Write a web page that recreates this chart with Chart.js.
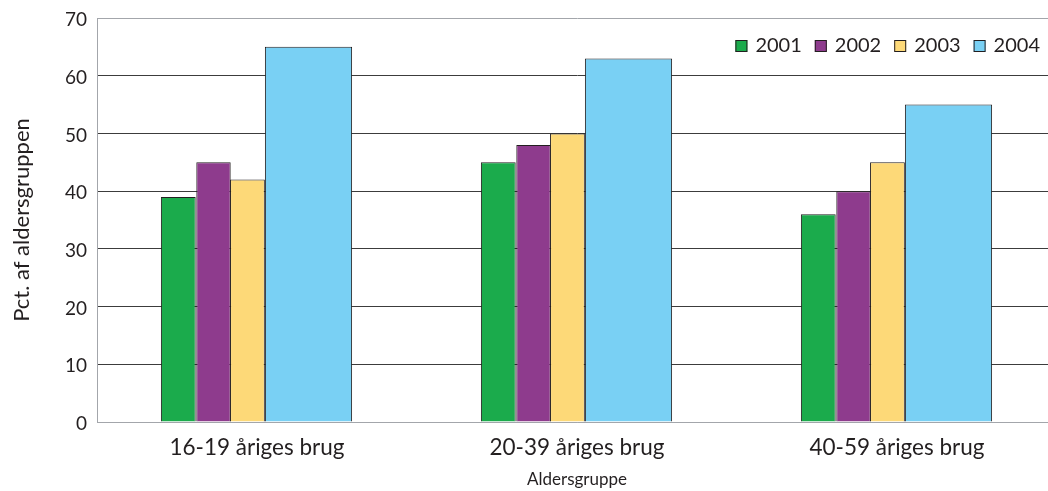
<!DOCTYPE html>
<html>
<head>
<meta charset="utf-8">
<script src="https://cdn.jsdelivr.net/npm/chart.js@4.4.0/dist/chart.umd.min.js"></script>
<style>
  html, body { margin: 0; padding: 0; background: #ffffff; overflow: hidden; }
  #wrap { position: relative; width: 1060px; height: 491px; }
</style>
</head>
<body>
<div id="wrap"><canvas id="c"></canvas></div>
<script>
// ---- data ----
const categories = ['16-19 åriges brug', '20-39 åriges brug', '40-59 åriges brug'];
const years = ['2001', '2002', '2003', '2004'];
const values2001 = [39, 45, 36];
const values2002 = [45, 48, 40];
const values2003 = [42, 50, 45];
const values2004 = [65, 63, 55];
const yMin = 0, yMax = 70, yStep = 10;
const yTitle = 'Pct. af aldersgruppen';
const xTitle = 'Aldersgruppe';

// ---- style ----
const TEXT = '#231f20';
const BORDER = '#231f20';
const AXIS_GREY = '#a3a6ab';
const GRID_DARK = '#3c3c3c';
const colors = ['#1bab4c', '#8e3b8d', '#fdd978', '#79d0f4'];
const FONT = 'Lato';

function barSet(label, data, color, catPct, barPct) {
  return {
    label, data,
    backgroundColor: color,
    borderColor: BORDER,
    borderWidth: 1,
    categoryPercentage: catPct,
    barPercentage: barPct
  };
}
// empty slots so that the wide 2004 bar sits to the right of the narrow ones
function spacer() { return { label: '', data: [], spacer: true }; }

const insideLegend = {
  id: 'insideLegend',
  afterDraw(chart) {
    const { ctx, chartArea } = chart;
    const items = chart.data.datasets.filter(d => !d.spacer);
    ctx.save();
    ctx.font = '20px ' + FONT;
    const box = 12, gapText = 8, gapItem = 13;
    const widths = items.map(d => ctx.measureText(d.label).width);
    const total = widths.reduce((a, w) => a + box + gapText + w, 0) + gapItem * (items.length - 1);
    let x = chartArea.right - 17 - total;
    const y = chartArea.top + 28;
    ctx.textBaseline = 'middle';
    ctx.textAlign = 'left';
    items.forEach((d, i) => {
      ctx.fillStyle = d.backgroundColor;
      ctx.fillRect(x, y - 6, box, box);
      ctx.strokeStyle = BORDER;
      ctx.lineWidth = 1;
      ctx.strokeRect(x + 0.5, y - 5.5, box - 1, box - 1);
      x += box + gapText;
      ctx.fillStyle = TEXT;
      ctx.fillText(d.label, x, y);
      x += widths[i] + gapItem;
    });
    ctx.restore();
  }
};

new Chart(document.getElementById('c'), {
  type: 'bar',
  data: {
    labels: categories,
    datasets: [
      barSet(years[0], values2001, colors[0], 0.59025, 1.1055),
      barSet(years[1], values2002, colors[1], 0.54375, 1.1862),
      barSet(years[2], values2003, colors[2], 0.3581, 1.822),
      spacer(),
      spacer(),
      barSet(years[3], values2004, colors[3], 0.38625, 4.233)
    ]
  },
  options: {
    responsive: true,
    maintainAspectRatio: false,
    animation: false,
    layout: { padding: { left: 0, right: 3, top: 18, bottom: 0 } },
    plugins: {
      legend: { display: false },
      tooltip: { enabled: false }
    },
    scales: {
      x: {
        grid: { display: false },
        border: { display: true, color: AXIS_GREY, width: 1 },
        ticks: { font: { family: FONT, size: 22.5 }, color: TEXT, padding: 4 },
        title: { display: true, text: xTitle, font: { family: FONT, size: 17 }, color: TEXT, padding: { top: 0, bottom: 1 } },
        afterFit: s => { s.height = 69; }
      },
      y: {
        min: yMin, max: yMax,
        ticks: { stepSize: yStep, font: { family: FONT, size: 19 }, color: TEXT, padding: 5, labelOffset: 2 },
        grid: {
          color: c => (c.tick && (c.tick.value === yMin || c.tick.value === yMax)) ? AXIS_GREY : GRID_DARK,
          lineWidth: 1,
          drawTicks: true,
          tickLength: 5,
          tickColor: 'rgba(0,0,0,0)'
        },
        border: { display: true, color: AXIS_GREY, width: 1 },
        title: { display: true, text: yTitle, font: { family: FONT, size: 22 }, color: TEXT, padding: { top: 9, bottom: 0 } },
        afterFit: s => { s.width = 97; }
      }
    }
  },
  plugins: [insideLegend]
});
</script>
</body>
</html>
